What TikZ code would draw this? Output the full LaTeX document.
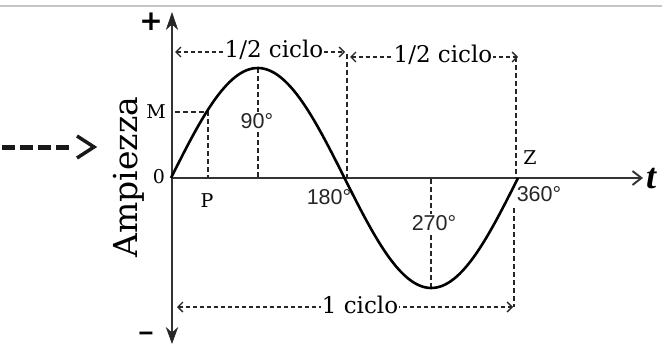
\documentclass[tikz,border=0pt]{standalone}
\usepackage{fontspec}
\setmainfont{DejaVu Serif}
\newfontfamily\sansf{Liberation Sans}
\newfontfamily\dejasans{DejaVu Sans}
\newfontfamily\timesf{Liberation Serif}
\usetikzlibrary{arrows.meta}
\begin{document}
\begin{tikzpicture}[x=1pt,y=-1pt,
  axis/.style={draw=black!80, line width=1.9pt},
  tip/.style={fill=black!85, draw=black!85, line width=0.6pt, line join=miter},
  curve/.style={draw=black, line width=2.6pt},
  guide/.style={draw=black!85, line width=1.6pt, dash pattern=on 5pt off 3pt},
  dim/.style={draw=black!85, line width=1.3pt, dash pattern=on 4.5pt off 2.5pt,
              {Straight Barb[length=5pt,width=10pt]}-{Straight Barb[length=5pt,width=10pt]}},
  lbl/.style={font=\fontsize{19}{19}\selectfont, inner sep=0pt},
  dimlbl/.style={font=\fontsize{23}{23}\selectfont, fill=white, inner sep=1pt},
  deg/.style={font=\sansf\fontsize{21.5}{21.5}\selectfont, text=black!85, inner sep=0pt},
]
\path[use as bounding box] (0,0) rectangle (662,345);
\draw[gray!45, line width=1.2pt] (0,6) -- (662,6);

% axes
\coordinate (O) at (171,178);
\coordinate (ytop) at (172,22);
\coordinate (ybot) at (172,336);
\coordinate (xend) at (643,178);
\draw[axis] (ytop) -- (ybot);
\coordinate (tt) at (172,13);
\coordinate (ttl) at (166.5,29);
\coordinate (ttr) at (177.5,29);
\coordinate (ttm) at (172,24);
\draw[tip] (tt) -- (ttr) -- (ttm) -- (ttl) -- cycle;
\coordinate (bt) at (172,343);
\coordinate (btl) at (166.5,328);
\coordinate (btr) at (177.5,328);
\coordinate (btm) at (172,333);
\draw[tip] (bt) -- (btr) -- (btm) -- (btl) -- cycle;
\draw[axis, -{Straight Barb[length=9pt,width=14pt]}] (O) -- (xend);

% key points
\coordinate (pk) at (257.75,68);
\coordinate (pkb) at (257.75,178);
\coordinate (tr) at (431.25,288);
\coordinate (trt) at (431.25,178);
\coordinate (mP) at (208,112);
\coordinate (mPb) at (208,178);
\coordinate (mY) at (175,112);

% guide lines
\draw[guide] (mY) -- (mP) -- (mPb);
\draw[guide] (pk) -- (pkb);
\draw[guide] (tr) -- (trt);
\coordinate (v1t) at (347,54);
\coordinate (v1b) at (347,178);
\coordinate (v2t) at (516,57);
\coordinate (v2b) at (516,178);
\coordinate (v3t) at (514,208);
\coordinate (v3b) at (514,307);
\draw[guide] (v1t) -- (v1b);
\draw[guide] (v2t) -- (v2b);
\draw[guide] (v3t) -- (v3b);

% sine curve
\draw[curve] plot[domain=0:360, samples=120, smooth] ({171+\x/180*173.5}, {178-110*sin(\x)});

% labels on guides
\node[deg, fill=white, inner sep=1pt] (l90) at (257,121) {90°};
\node[deg, fill=white, inner sep=1pt] (l270) at (434,223) {270°};
\node[deg] (l180) at (329,197) {180°};
\node[deg] (l360) at (539,194) {360°};

% dimension arrows
\coordinate (d1a) at (175,52);
\coordinate (d1b) at (345,52);
\coordinate (d2a) at (350,57);
\coordinate (d2b) at (518,57);
\coordinate (d3a) at (177,307);
\coordinate (d3b) at (513,307);
\draw[dim] (d1a) -- (d1b);
\draw[dim] (d2a) -- (d2b);
\draw[dim] (d3a) -- (d3b);
\node[dimlbl] (h1) at (274,50) {1/2 ciclo};
\node[dimlbl] (h2) at (443,55) {1/2 ciclo};
\node[dimlbl] (h3) at (360,305) {1 ciclo};

% point labels
\node[lbl] (M) at (156,112) {M};
\node[lbl] (zero) at (159,177) {0};
\node[lbl] (P) at (207,201) {P};
\node[lbl] (Z) at (530,158) {Z};
\node[font=\dejasans\bfseries\fontsize{28}{28}\selectfont, inner sep=0pt] (plus) at (151,22) {+};
\node[font=\dejasans\bfseries\fontsize{22}{22}\selectfont, inner sep=0pt] (minus) at (146,336) {\symbol{"2012}};
\node[font=\timesf\bfseries\itshape\fontsize{36}{36}\selectfont, inner sep=0pt] (t) at (651,179) {t};

% y label
\node[font=\fontsize{33}{33}\selectfont, rotate=90, anchor=base, inner sep=0pt] (amp) at (137,177) {Ampiezza};

% left arrow
\coordinate (la) at (2,147);
\coordinate (lb) at (73,147);
\coordinate (lc1) at (77,136);
\coordinate (lc2) at (94,147);
\coordinate (lc3) at (77,158);
\draw[black!90, line width=5pt, dash pattern=on 13pt off 5pt] (la) -- (lb);
\draw[black!90, line width=3.5pt, line join=miter] (lc1) -- (lc2) -- (lc3);
\end{tikzpicture}
\end{document}
